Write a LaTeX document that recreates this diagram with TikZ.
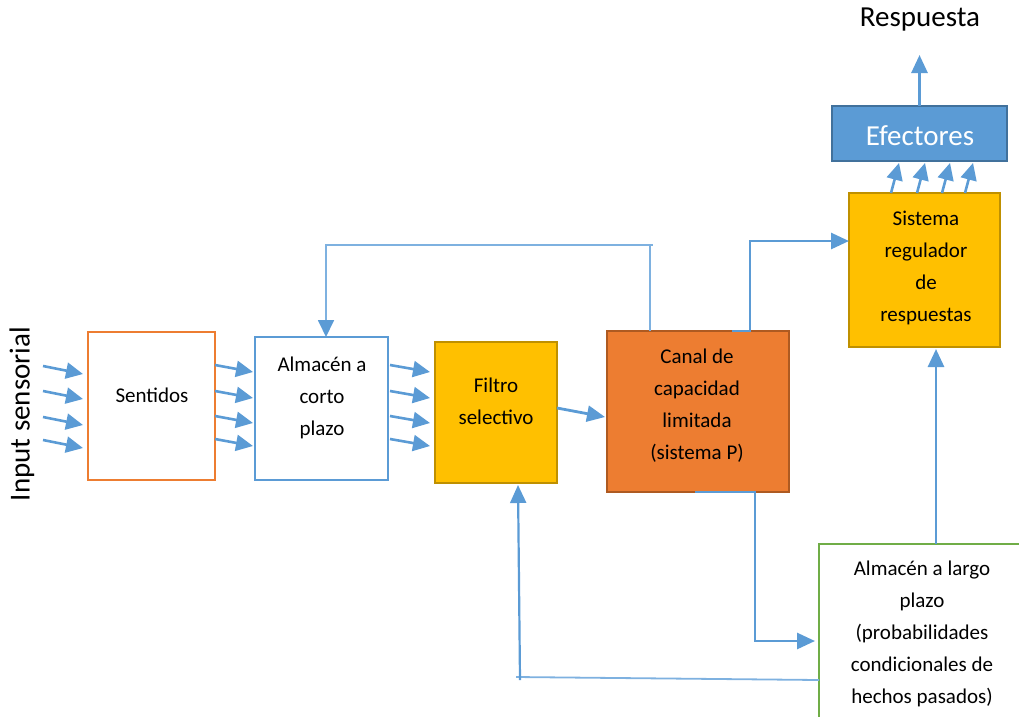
\documentclass[tikz,border=0pt]{standalone}
\usepackage{fontspec}
\setmainfont{Carlito}
\usetikzlibrary{arrows.meta,calc}
\definecolor{cblue}{HTML}{5B9BD5}
\definecolor{cblueL}{HTML}{7EB1E0}
\definecolor{cbluedark}{HTML}{41719C}
\definecolor{corange}{HTML}{ED7D31}
\definecolor{corangedark}{HTML}{AE5A21}
\definecolor{cyellow}{HTML}{FFC000}
\definecolor{cyellowdark}{HTML}{BF9000}
\definecolor{cgreen}{HTML}{70AD47}
\begin{document}
\begin{tikzpicture}[x=1pt,y=-1pt,
  box/.style={rectangle, inner sep=0pt, outer sep=0pt, anchor=north west, line width=2pt},
  conn/.style={draw=cblue, line width=2.8pt, -{Triangle[length=18pt,width=16pt]}},
  smallconn/.style={draw=cblue, line width=2.6pt, -{Triangle[length=17pt,width=16pt]}},
  thinconn/.style={draw=cblueL, line width=1.8pt, -{Triangle[length=17pt,width=16pt,color=cblue]}},
  thinline/.style={draw=cblueL, line width=1.8pt},
  lbl/.style={font=\fontsize{21}{32}\selectfont, align=center, text=black, inner sep=0pt},
  big/.style={font=\fontsize{29}{34}\selectfont, inner sep=0pt}
]
\useasboundingbox (0,0) rectangle (1019,716);

% boxes
\node[box, draw=corange, line width=2.5pt, minimum width=127pt, minimum height=148pt] (sent) at (88,332) {};
\node[box, draw=cblue, line width=2.5pt, minimum width=133pt, minimum height=143pt] (alm) at (255,337) {};
\node[box, draw=cyellowdark, fill=cyellow, line width=2.5pt, minimum width=122pt, minimum height=141pt] (filtro) at (435,342) {};
\node[box, draw=corangedark, fill=corange, line width=2.5pt, minimum width=182pt, minimum height=161pt] (canal) at (607,331) {};
\node[box, draw=cyellowdark, fill=cyellow, line width=2.5pt, minimum width=151pt, minimum height=154pt] (sis) at (849,193) {};
\node[box, draw=cbluedark, fill=cblue, line width=2.5pt, minimum width=175pt, minimum height=55pt] (eff) at (832,106) {};
\node[box, draw=cgreen, line width=2.5pt, minimum width=230pt, minimum height=200pt] (largo) at (819,544) {};

% texts
\node[lbl] (tsent) at (152,395) {Sentidos};
\node[lbl] (talm) at (322,398) {Almacén a\\corto\\plazo};
\node[lbl] (tfiltro) at (496,401) {Filtro\\selectivo};
\node[lbl] (tcanal) at (697,406) {Canal de\\capacidad\\limitada\\(sistema P)};
\node[lbl] (tsis) at (926,268) {Sistema\\regulador\\de\\respuestas};
\node[lbl] (tlargo) at (922,634) {Almacén a largo\\plazo\\(probabilidades\\condicionales de\\hechos pasados)};
\node[big, text=white] (teff) at (920,136) {Efectores};
\node[big] (resp) at (920,20) {Respuesta};
\node[big, rotate=90] (inp) at (22,414) {Input sensorial};

% input arrows
\foreach \dy in {0,25,51,74}{
  \draw[smallconn] ($(sent.north west)+(-45,34+\dy)$) -- ($(sent.north west)+(-5,42+\dy)$);
}
% sentidos -> almacen
\foreach \dy in {0,26,51,74}{
  \draw[smallconn] ($(sent.north east)+(0,33+\dy)$) -- ($(alm.north west)+(-2,35+\dy)$);
}
% almacen -> filtro
\foreach \dy in {0,26,51,74}{
  \draw[smallconn] ($(alm.north east)+(2,28+\dy)$) -- ($(filtro.north west)+(-5,30+\dy)$);
}
% filtro -> canal
\draw[conn] ($(filtro.north east)+(0,66)$) -- ($(canal.north west)+(-2,86)$);

% feedback canal -> almacen
\draw[thinline] ($(canal.north west)+(43,0)$) -- ($(canal.north west)+(43,-86)$) -- ($(canal.north west)+(46,-86)$);
\draw[thinconn] ($(canal.north west)+(43,-86)$) -- ($(alm.north west)+(71,-92)$) -- ($(alm.north west)+(71,0)$);

% canal -> sistema
\draw[conn] ($(canal.north west)+(125,0)$) -- ($(canal.north west)+(143,0)$) |- ($(sis.north west)+(0,48)$);

% canal -> largo
\draw[conn] ($(canal.south west)+(88,0)$) -- ($(canal.south west)+(148,0)$) |- ($(largo.north west)+(-4,97)$);

% largo -> sistema
\draw[conn] ($(largo.north west)+(117,0)$) -- ($(sis.south west)+(87,2)$);

% largo -> filtro
\draw[thinline] ($(largo.north west)+(0,136)$) -- ($(filtro.south west)+(81,194)$);
\draw[conn, line width=2.2pt] ($(filtro.south west)+(85,197)$) -- ($(filtro.south west)+(83,2)$);

% sistema -> efectores
\foreach \dx in {0,26,51,74}{
  \draw[smallconn] ($(sis.north west)+(42+\dx,0)$) -- ($(eff.south west)+(67+\dx,2)$);
}

% efectores -> respuesta
\draw[conn] (eff.north) -- ($(eff.north)+(0,-51)$);
\end{tikzpicture}
\end{document}
